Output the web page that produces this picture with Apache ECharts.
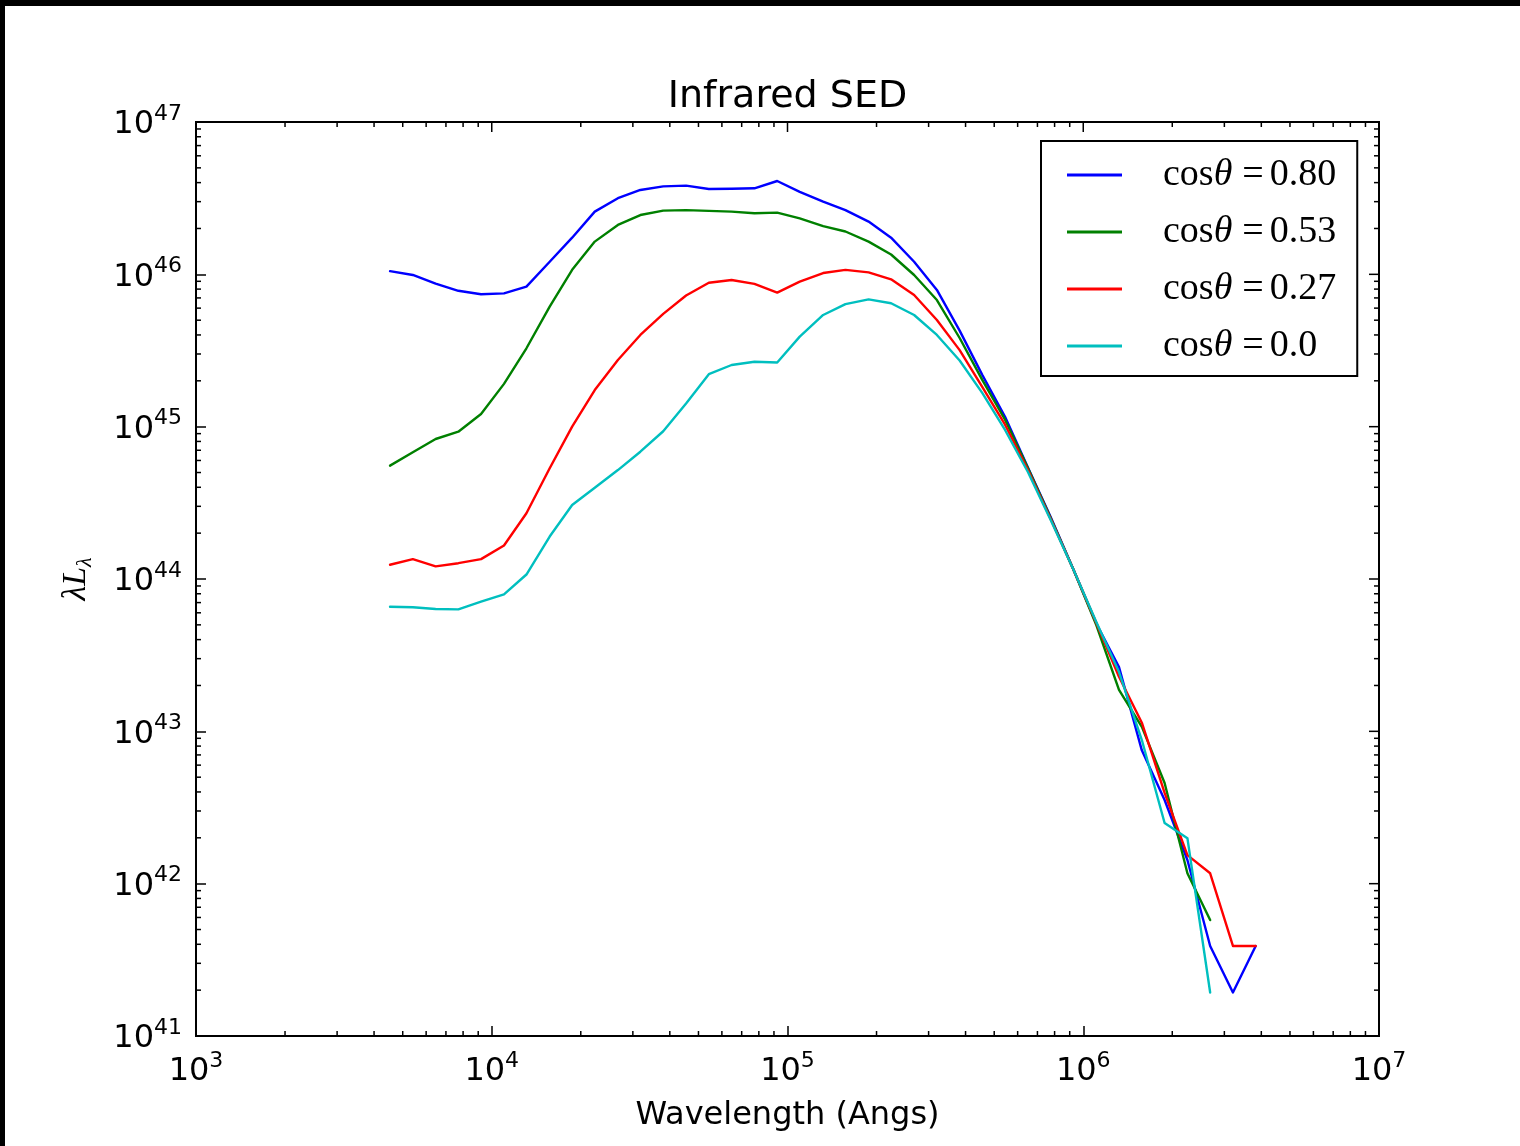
<!DOCTYPE html>
<html>
<head>
<meta charset="utf-8">
<title>Infrared SED</title>
<script src="https://cdn.jsdelivr.net/npm/echarts@6/dist/echarts.min.js"></script>
<style>
  html, body { margin: 0; padding: 0; background: #fff; }
  #chart { width: 1520px; height: 1146px; }
</style>
</head>
<body>
<div id="chart"></div>
<script>
// Wavelength grid (Angstrom), shared by every viewing angle
const wavelengths = [
  4530, 5410, 6460, 7710, 9200, 11000, 13100, 15700, 18700, 22300,
  26700, 31800, 38000, 45400, 54200, 64700, 77300, 92300, 110000, 132000,
  157000, 188000, 224000, 268000, 320000, 382000, 456000, 544000, 650000, 776000,
  927000, 1107000, 1321000, 1578000, 1884000, 2250000, 2686000, 3207000, 3829000
];

// lambda * L_lambda for each inclination
const lumCos080 = [
  1.05e46, 9.9e45, 8.7e45, 7.8e45, 7.4e45, 7.5e45, 8.3e45, 1.21e46, 1.74e46, 2.58e46,
  3.16e46, 3.58e46, 3.78e46, 3.82e46, 3.63e46, 3.65e46, 3.67e46, 4.10e46, 3.48e46, 3.00e46,
  2.64e46, 2.22e46, 1.74e46, 1.21e46, 7.9e45, 4.27e45, 2.18e45, 1.16e45, 5.4e44, 2.55e44,
  1.15e44, 5.1e43, 2.64e43, 7.5e42, 3.54e42, 1.43e42, 3.9e41, 1.93e41, 3.9e41
];
const lumCos053 = [
  5.55e44, 6.79e44, 8.30e44, 9.27e44, 1.21e45, 1.91e45, 3.27e45, 6.14e45, 1.07e46, 1.64e46,
  2.11e46, 2.45e46, 2.62e46, 2.64e46, 2.61e46, 2.58e46, 2.52e46, 2.54e46, 2.33e46, 2.07e46,
  1.91e46, 1.64e46, 1.35e46, 9.9e45, 6.78e45, 3.82e45, 2.02e45, 1.11e45, 5.36e44, 2.51e44,
  1.15e44, 4.99e43, 1.87e43, 1.07e43, 4.58e42, 1.17e42, 5.77e41
];
const lumCos027 = [
  1.24e44, 1.35e44, 1.21e44, 1.27e44, 1.35e44, 1.66e44, 2.70e44, 5.33e44, 1.00e45, 1.74e45,
  2.74e45, 4.00e45, 5.50e45, 7.26e45, 8.81e45, 9.18e45, 8.65e45, 7.59e45, 8.95e45, 1.02e46,
  1.07e46, 1.03e46, 9.27e45, 7.31e45, 5.01e45, 3.18e45, 1.82e45, 1.03e45, 5.19e44, 2.48e44,
  1.15e44, 5.14e43, 2.28e43, 1.14e43, 3.94e42, 1.54e42, 1.17e42, 3.9e41, 3.9e41
];
const lumCos000 = [
  6.58e43, 6.52e43, 6.35e43, 6.32e43, 7.10e43, 7.93e43, 1.07e44, 1.90e44, 3.06e44, 3.97e44,
  5.19e44, 6.85e44, 9.33e44, 1.42e45, 2.21e45, 2.54e45, 2.67e45, 2.64e45, 3.90e45, 5.41e45,
  6.38e45, 6.85e45, 6.46e45, 5.41e45, 4.00e45, 2.72e45, 1.66e45, 9.51e44, 5.04e44, 2.44e44,
  1.15e44, 5.22e43, 2.45e43, 8.77e42, 2.50e42, 1.99e42, 1.93e41
];

const seriesNames = ['cosθ=0.80', 'cosθ=0.53', 'cosθ=0.27', 'cosθ=0.0'];
const seriesValues = [lumCos080, lumCos053, lumCos027, lumCos000];
const seriesColors = ['#0000ff', '#008000', '#ff0000', '#00bfbf'];

// Decade exponents used for the tick labels
const xTickExponents = [3, 4, 5, 6, 7];
const yTickExponents = [41, 42, 43, 44, 45, 46, 47];

const GRID = { left: 196, top: 122, width: 1183, height: 914 };

const powerLabel = (v) => '{b|10}{s|' + Math.round(Math.log10(v)) + '}';
const powerRich = {
  b: { fontFamily: 'DejaVu Sans', fontSize: 32, lineHeight: 44, color: '#000' },
  s: { fontFamily: 'DejaVu Sans', fontSize: 22, lineHeight: 20, verticalAlign: 'top', color: '#000' }
};

const chart = echarts.init(document.getElementById('chart'), null, { renderer: 'canvas' });

const series = seriesNames.map((name, k) => ({
  name: name,
  type: 'line',
  showSymbol: false,
  symbol: 'none',
  smooth: false,
  animation: false,
  color: seriesColors[k],
  lineStyle: { color: seriesColors[k], width: 2.4, cap: 'round', join: 'round' },
  itemStyle: { color: seriesColors[k] },
  data: seriesValues[k].map((v, i) => [wavelengths[i], v])
}));

const option = {
  backgroundColor: '#fff',
  animation: false,
  title: {
    text: 'Infrared SED',
    left: GRID.left + GRID.width / 2,
    top: 78,
    textAlign: 'center',
    padding: 0,
    textStyle: { fontFamily: 'DejaVu Sans', fontSize: 38, fontWeight: 'normal', color: '#000' }
  },
  grid: {
    left: GRID.left, top: GRID.top, width: GRID.width, height: GRID.height,
    containLabel: false, outerBoundsMode: 'none',
    show: true, borderColor: '#000', borderWidth: 2, backgroundColor: 'transparent'
  },
  legend: {
    orient: 'vertical',
    left: 1041, top: 141,
    padding: [14, 21, 10, 26],
    borderColor: '#000', borderWidth: 2, borderRadius: 0,
    backgroundColor: '#fff',
    icon: 'rect',
    itemWidth: 55, itemHeight: 3, itemGap: 17,
    selectedMode: false,
    data: seriesNames,
    formatter: (name) => {
      const val = name.split('=')[1];
      return '{g| }{c|cos}{t|θ}{e|=}{c|' + val + '}';
    },
    textStyle: {
      lineHeight: 40,
      rich: {
        g: { width: 36 },
        c: { fontFamily: 'Liberation Serif', fontSize: 38, color: '#000', lineHeight: 40 },
        t: { fontFamily: 'Liberation Serif', fontStyle: 'italic', fontSize: 38, color: '#000', lineHeight: 40 },
        e: { fontFamily: 'Liberation Serif', fontSize: 38, color: '#000', lineHeight: 40, padding: [0, 6, 0, 10] }
      }
    }
  },
  xAxis: {
    type: 'log', logBase: 10,
    min: Math.pow(10, xTickExponents[0]),
    max: Math.pow(10, xTickExponents[xTickExponents.length - 1]),
    splitNumber: xTickExponents.length - 1,
    axisLine: { show: false },
    axisTick: { show: true, inside: true, length: 10, lineStyle: { color: '#000', width: 1.5 } },
    splitLine: { show: false },
    axisLabel: { margin: 14, formatter: powerLabel, rich: powerRich, showMinLabel: true, showMaxLabel: true, hideOverlap: false },
    name: 'Wavelength (Angs)',
    nameLocation: 'middle',
    nameGap: 64,
    nameTextStyle: { fontFamily: 'DejaVu Sans', fontSize: 32, color: '#000' }
  },
  yAxis: {
    type: 'log', logBase: 10,
    min: Math.pow(10, yTickExponents[0]),
    max: Math.pow(10, yTickExponents[yTickExponents.length - 1]),
    splitNumber: yTickExponents.length - 1,
    axisLine: { show: false },
    axisTick: { show: true, inside: true, length: 10, lineStyle: { color: '#000', width: 1.5 } },
    splitLine: { show: false },
    axisLabel: { margin: 14, padding: [6, 0, 0, 0], formatter: powerLabel, rich: powerRich, showMinLabel: true, showMaxLabel: true, hideOverlap: false },
    name: '{v|λL}{s|λ}',
    nameLocation: 'middle',
    nameRotate: 90,
    nameGap: 100,
    nameTextStyle: {
      rich: {
        v: { fontFamily: 'Liberation Serif', fontStyle: 'italic', fontSize: 34, lineHeight: 40, color: '#000' },
        s: { fontFamily: 'Liberation Serif', fontStyle: 'italic', fontSize: 22, lineHeight: 24, verticalAlign: 'bottom', color: '#000' }
      }
    }
  },
  series: series
};

chart.setOption(option);

// Minor ticks (2..9 per decade) on all four sides and major ticks on top/right,
// placed through the axes' own log scales.
const bottom = GRID.top + GRID.height;
const right = GRID.left + GRID.width;
const tick = (x1, y1, x2, y2) => ({
  type: 'line', silent: true, z: 10,
  shape: { x1: x1, y1: y1, x2: x2, y2: y2 },
  style: { stroke: '#000', lineWidth: 1.5 }
});
const marks = [];
xTickExponents.forEach((e, idx) => {
  const major = chart.convertToPixel({ xAxisIndex: 0 }, Math.pow(10, e));
  marks.push(tick(major, GRID.top, major, GRID.top + 10));
  if (idx < xTickExponents.length - 1) {
    for (let m = 2; m <= 9; m++) {
      const px = chart.convertToPixel({ xAxisIndex: 0 }, m * Math.pow(10, e));
      marks.push(tick(px, bottom, px, bottom - 5));
      marks.push(tick(px, GRID.top, px, GRID.top + 5));
    }
  }
});
yTickExponents.forEach((e, idx) => {
  const major = chart.convertToPixel({ yAxisIndex: 0 }, Math.pow(10, e));
  marks.push(tick(right, major, right - 10, major));
  if (idx < yTickExponents.length - 1) {
    for (let m = 2; m <= 9; m++) {
      const py = chart.convertToPixel({ yAxisIndex: 0 }, m * Math.pow(10, e));
      marks.push(tick(GRID.left, py, GRID.left + 5, py));
      marks.push(tick(right, py, right - 5, py));
    }
  }
});

// Dark frame strips along the top and left edges of the figure
marks.push({ type: 'rect', silent: true, z: 20, shape: { x: 0, y: 0, width: 1520, height: 6 }, style: { fill: '#000' } });
marks.push({ type: 'rect', silent: true, z: 20, shape: { x: 0, y: 0, width: 5, height: 1146 }, style: { fill: '#000' } });

chart.setOption({ graphic: marks });
</script>
</body>
</html>
